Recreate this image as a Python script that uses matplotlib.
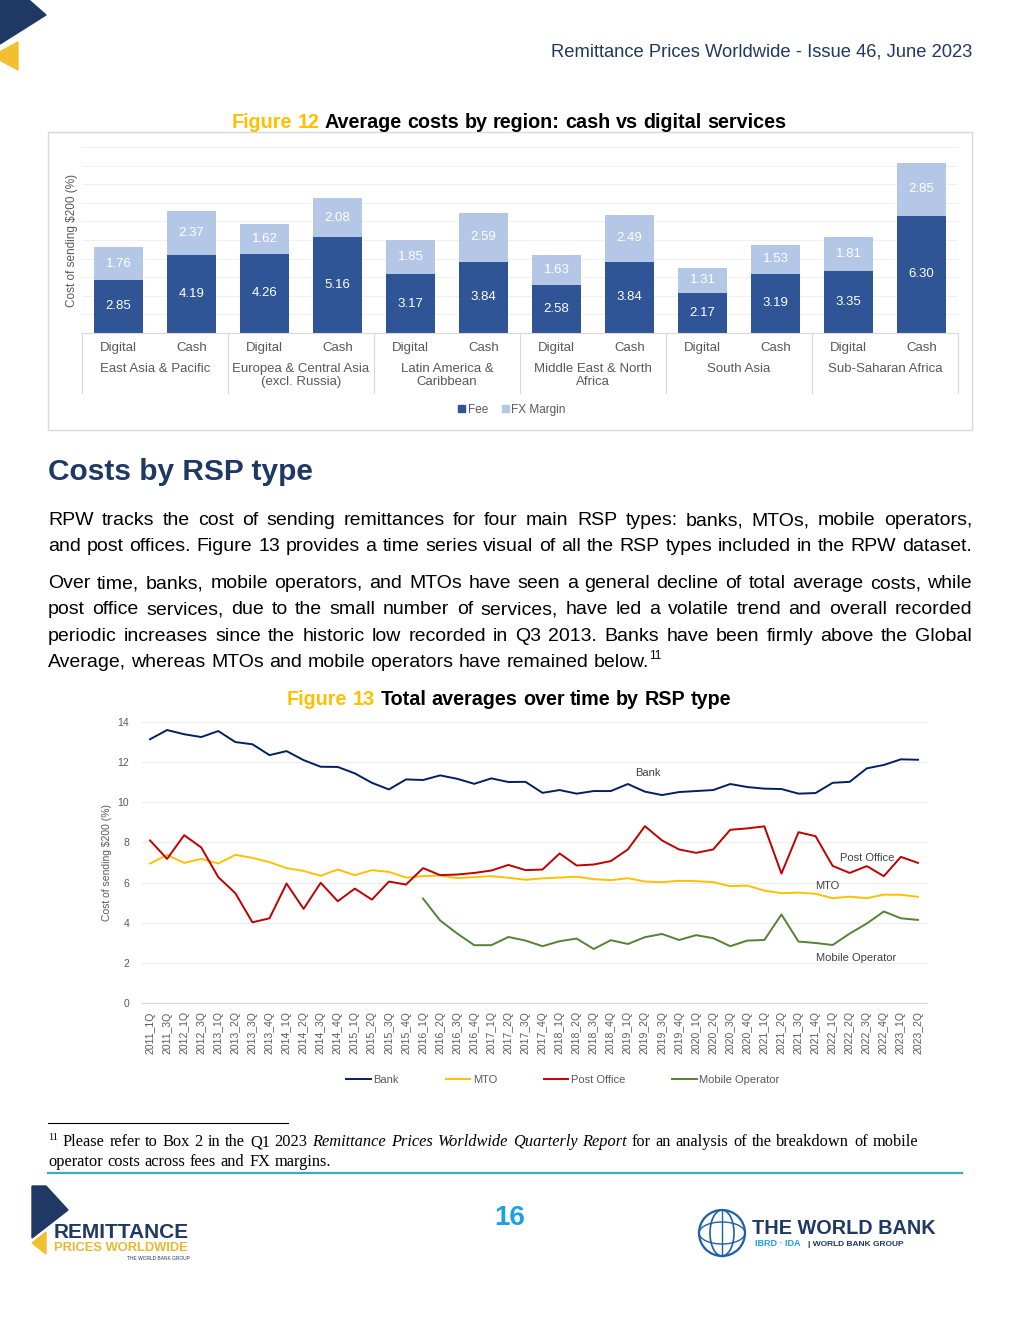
import numpy as np
import matplotlib.pyplot as plt
import matplotlib.transforms as mtrans
from matplotlib.patches import Polygon, Rectangle, Ellipse
from matplotlib.lines import Line2D

# ---- Figure 12 data: average cost by region, digital vs cash ----
kinds = ["Digital", "Cash"] * 6
regions = ["East Asia & Pacific", "Europea & Central Asia\n(excl. Russia)",
           "Latin America &\nCaribbean", "Middle East & North\nAfrica",
           "South Asia", "Sub-Saharan Africa"]
fee = [2.85, 4.19, 4.26, 5.16, 3.17, 3.84, 2.58, 3.84, 2.17, 3.19, 3.35, 6.30]
fx_margin = [1.76, 2.37, 1.62, 2.08, 1.85, 2.59, 1.63, 2.49, 1.31, 1.53, 1.81, 2.85]

# ---- Figure 13 data: total averages by RSP type ----
quarters = ["2011_1Q", "2011_3Q", "2012_1Q", "2012_3Q",
            "2013_1Q", "2013_2Q", "2013_3Q", "2013_4Q",
            "2014_1Q", "2014_2Q", "2014_3Q", "2014_4Q",
            "2015_1Q", "2015_2Q", "2015_3Q", "2015_4Q",
            "2016_1Q", "2016_2Q", "2016_3Q", "2016_4Q",
            "2017_1Q", "2017_2Q", "2017_3Q", "2017_4Q",
            "2018_1Q", "2018_2Q", "2018_3Q", "2018_4Q",
            "2019_1Q", "2019_2Q", "2019_3Q", "2019_4Q",
            "2020_1Q", "2020_2Q", "2020_3Q", "2020_4Q",
            "2021_1Q", "2021_2Q", "2021_3Q", "2021_4Q",
            "2022_1Q", "2022_2Q", "2022_3Q", "2022_4Q",
            "2023_1Q", "2023_2Q"]
bank = [13.14, 13.60, 13.39, 13.25, 13.55, 13.00, 12.89, 12.35, 12.55, 12.10,
        11.77, 11.76, 11.44, 10.97, 10.64, 11.14, 11.11, 11.34, 11.17, 10.92,
        11.19, 11.01, 11.02, 10.47, 10.61, 10.43, 10.56, 10.56, 10.91, 10.53,
        10.36, 10.51, 10.56, 10.61, 10.91, 10.76, 10.68, 10.66, 10.43, 10.46,
        10.97, 11.02, 11.69, 11.86, 12.14, 12.12]
mto = [6.95, 7.38, 6.98, 7.18, 6.95, 7.38, 7.23, 7.02, 6.72, 6.58,
       6.34, 6.65, 6.37, 6.62, 6.53, 6.25, 6.32, 6.35, 6.22, 6.27,
       6.32, 6.24, 6.14, 6.21, 6.25, 6.29, 6.17, 6.12, 6.22, 6.05,
       6.02, 6.09, 6.07, 6.02, 5.82, 5.85, 5.60, 5.47, 5.50, 5.44,
       5.22, 5.30, 5.22, 5.40, 5.39, 5.29]
post_office = [8.10, 7.18, 8.36, 7.75, 6.27, 5.47, 4.02, 4.22, 5.95, 4.69,
               5.99, 5.07, 5.70, 5.15, 6.05, 5.90, 6.72, 6.37, 6.40, 6.48,
               6.60, 6.88, 6.62, 6.65, 7.45, 6.85, 6.90, 7.07, 7.65, 8.81,
               8.10, 7.65, 7.48, 7.65, 8.63, 8.70, 8.80, 6.45, 8.51, 8.31,
               6.83, 6.48, 6.82, 6.32, 7.28, 6.98]
nan = np.nan
mobile = [nan] * 16 + [5.20, 4.11, 3.46, 2.88, 2.88, 3.29, 3.11, 2.83, 3.08, 3.21,
                       2.69, 3.13, 2.94, 3.28, 3.44, 3.14, 3.38, 3.23, 2.83, 3.11,
                       3.14, 4.41, 3.06, 2.99, 2.89, 3.46, 3.96, 4.56, 4.22, 4.14]

NAVY = "#1F3864"
GREY = "#595959"
GOLD = "#FFC000"

W, H = 1020, 1320
plt.rcParams['font.family'] = ['Liberation Sans', 'DejaVu Sans']
fig = plt.figure(figsize=(W / 100, H / 100), dpi=100)
rend = fig.canvas.get_renderer()


def px(x, y):
    return x / W, 1 - y / H


def box(l, t, r, b):
    return [l / W, 1 - b / H, (r - l) / W, (b - t) / H]


def words(s, **st):
    return [(w, st) for w in s.split()]


def put_line(tokens, y, x0, x1=None, how="left"):
    # place words one by one on a common baseline so a line can be justified
    size = tokens[0][1].get("fontsize", 12)
    em = size * 100 / 72
    base = y + 0.33 * em
    arts, wid, sups = [], [], []
    for t, st in tokens:
        st = dict(st)
        sup = st.pop("sup", False)
        a = fig.text(0, 0, t, va="baseline", ha="left", **st)
        arts.append(a)
        sups.append(sup)
        wid.append(a.get_window_extent(rend).width)
    if sups[0]:
        em = tokens[1][1].get("fontsize", 12) * 100 / 72
        base = y + 0.33 * em
    ngap = sum(1 for s in sups[1:] if not s)
    gap = 0.278 * em
    if how == "justify" and ngap:
        gap = max((x1 - x0 - sum(wid)) / ngap, 0.15 * em)
    total = sum(wid) + gap * ngap
    x = x0 - total / 2 if how == "center" else x0
    for i, a in enumerate(arts):
        if i > 0 and not sups[i]:
            x += gap
        a.set_position(px(x, base - (0.42 * em if sups[i] else 0)))
        x += wid[i]


# ---- header and corner mark ----
fig.patches.append(Polygon([px(0, 0), px(29, 0), px(46, 15), px(0, 44)], closed=True,
                           transform=fig.transFigure, color=NAVY))
fig.patches.append(Polygon([px(-8, 56), px(18, 42), px(18, 70)], closed=True,
                           transform=fig.transFigure, color="#F0C030"))
fig.text(*px(972, 52), "Remittance Prices Worldwide - Issue 46, June 2023", ha="right",
         va="center", fontsize=13.2, color=NAVY)

# ---- Figure 12 ----
put_line([("Figure", dict(fontsize=14.2, weight="bold", color=GOLD)),
          ("12", dict(fontsize=14.2, weight="bold", color=GOLD))] +
         words("Average costs by region: cash vs digital services",
               fontsize=14.2, weight="bold", color="black"), 121, 509, how="center")
fig.patches.append(Rectangle(px(48, 430), 924 / W, 298 / H, transform=fig.transFigure,
                             fill=False, edgecolor="#D9D9D9", lw=1))

ax1 = fig.add_axes(box(82, 147, 958, 333))
x = np.arange(len(fee))
ax1.bar(x, fee, 0.67, color="#2F5597", zorder=2)
ax1.bar(x, fx_margin, 0.67, bottom=fee, color="#B4C7E7", zorder=2)
ax1.set_xlim(-0.5, 11.5)
ax1.set_ylim(0, 10)
ax1.set_yticks(range(0, 11))
ax1.yaxis.grid(True, color="#F0F0F0", lw=0.8)
ax1.set_axisbelow(True)
ax1.tick_params(left=False, labelleft=False, bottom=False, labelbottom=False)
for s in ["top", "right", "left"]:
    ax1.spines[s].set_visible(False)
ax1.spines["bottom"].set_color("#D9D9D9")
for i in range(len(fee)):
    ax1.text(i, fee[i] / 2, f"{fee[i]:.2f}", ha="center", va="center", color="white",
             fontsize=9.5)
    ax1.text(i, fee[i] + fx_margin[i] / 2, f"{fx_margin[i]:.2f}", ha="center",
             va="center", color="white", fontsize=9.5)
bt = mtrans.blended_transform_factory(ax1.transData, ax1.transAxes)
for i, k in enumerate(kinds):
    ax1.text(i, -15 / 186, k, transform=bt, ha="center", va="center", fontsize=9.5,
             color=GREY)
for g, reg in enumerate(regions):
    ax1.text(2 * g + 0.5, -30 / 186, reg, transform=bt, ha="center", va="top",
             fontsize=9.5, color=GREY, linespacing=1.1)
for g in range(7):
    ax1.plot([2 * g - 0.5] * 2, [0, -60 / 186], transform=bt, color="#D9D9D9", lw=0.8,
             clip_on=False)
ax1.set_ylabel("Cost of sending $200 (%)", fontsize=8.5, color=GREY, labelpad=2)
ax1.yaxis.set_label_coords(-4 / 876, 0.5)
fig.legend([Rectangle((0, 0), 1, 1, color="#2F5597"), Rectangle((0, 0), 1, 1, color="#B4C7E7")],
           ["Fee", "FX Margin"], loc="center", bbox_to_anchor=px(512, 410), ncol=2,
           frameon=False, fontsize=8.5, labelcolor=GREY, handlelength=0.55,
           handleheight=0.55, handletextpad=0.25, columnspacing=1.2)

# ---- body text ----
fig.text(*px(48, 472), "Costs by RSP type", ha="left", va="center", fontsize=21.5,
         weight="bold", color=NAVY)
body = dict(fontsize=14, color="black")
para = [
    ("RPW tracks the cost of sending remittances for four main RSP types: banks, MTOs, mobile operators,", 519),
    ("and post offices. Figure 13 provides a time series visual of all the RSP types included in the RPW dataset.", 545),
    ("Over time, banks, mobile operators, and MTOs have seen a general decline of total average costs, while", 582),
    ("post office services, due to the small number of services, have led a volatile trend and overall recorded", 608),
    ("periodic increases since the historic low recorded in Q3 2013. Banks have been firmly above the Global", 635),
]
for s, yy in para:
    put_line(words(s, **body), yy, 48, 972, how="justify")
put_line(words("Average, whereas MTOs and mobile operators have remained below.", **body) +
         [("11", dict(fontsize=8.5, color="black", sup=True))], 661, 48)

# ---- Figure 13 ----
put_line([("Figure", dict(fontsize=14.2, weight="bold", color=GOLD)),
          ("13", dict(fontsize=14.2, weight="bold", color=GOLD))] +
         words("Total averages over time by RSP type",
               fontsize=14.2, weight="bold", color="black"), 698, 509, how="center")

ax2 = fig.add_axes(box(141.5, 722, 926.5, 1003))
t = np.arange(len(quarters))
l1, = ax2.plot(t, bank, color="#002060", lw=1.4)
l2, = ax2.plot(t, mto, color="#FFC000", lw=1.4)
l3, = ax2.plot(t, post_office, color="#C00000", lw=1.4)
l4, = ax2.plot(t, mobile, color="#548235", lw=1.4)
ax2.set_xlim(-0.5, len(quarters) - 0.5)
ax2.set_ylim(0, 14)
ax2.set_yticks(range(0, 15, 2))
ax2.set_xticks(t)
ax2.set_xticklabels(quarters, rotation=90)
ax2.yaxis.grid(True, color="#EDEDED", lw=0.8)
ax2.tick_params(length=0, labelsize=7.5, labelcolor=GREY)
ax2.tick_params(axis="y", pad=9)
ax2.tick_params(axis="x", pad=6)
for s in ["top", "right", "left"]:
    ax2.spines[s].set_visible(False)
ax2.spines["bottom"].set_color("#D9D9D9")
ax2.set_ylabel("Cost of sending $200 (%)", fontsize=7.5, color=GREY)
ax2.yaxis.set_label_coords(-29 / 785, 0.5)
lab = dict(fontsize=8, color="#404040", ha="center", va="center")
ax2.text(29.2, 11.46, "Bank", **lab)
ax2.text(42.0, 7.22, "Post Office", **lab)
ax2.text(39.7, 5.83, "MTO", **lab)
ax2.text(41.4, 2.24, "Mobile Operator", **lab)
fig.legend([l1, l2, l3, l4], ["Bank", "MTO", "Post Office", "Mobile Operator"],
           loc="center", bbox_to_anchor=px(563, 1080), ncol=4, frameon=False,
           fontsize=8, labelcolor=GREY, handlelength=2.2, handletextpad=0.25,
           columnspacing=4.2)

# ---- footnote ----
fig.add_artist(Line2D([48 / W, 288 / W], [1 - 1123 / H] * 2, color="black", lw=0.8))
serif = dict(fontsize=11.8, color="black", family=["Liberation Serif", "DejaVu Serif"])
serif_i = dict(serif, style="italic")
put_line([("11", dict(serif, fontsize=7.5, sup=True))] +
         words("Please refer to Box 2 in the Q1 2023", **serif) +
         words("Remittance Prices Worldwide Quarterly Report", **serif_i) +
         words("for an analysis of the breakdown of mobile", **serif),
         1141, 48, 918, how="justify")
put_line(words("operator costs across fees and FX margins.", **serif), 1161, 48)

# ---- page footer ----
fig.add_artist(Line2D([48 / W, 962 / W], [1 - 1173 / H] * 2, color="#3AA8D0", lw=1.6))
fig.text(*px(510, 1218), "16", ha="center", va="center", fontsize=20, weight="bold",
         color="#1BA1E2")
fig.patches.append(Polygon([px(32, 1186), px(46, 1186), px(68, 1210), px(32, 1238)],
                           closed=True, transform=fig.transFigure, color=NAVY))
fig.patches.append(Polygon([px(32, 1243), px(46, 1232), px(46, 1254)], closed=True,
                           transform=fig.transFigure, color="#F0C030"))
fig.text(*px(54, 1233), "REMITTANCE", ha="left", va="center", fontsize=15,
         weight="bold", color=NAVY)
fig.text(*px(54, 1248), "PRICES WORLDWIDE", ha="left", va="center", fontsize=9.3,
         weight="bold", color="#E8B830")
fig.text(*px(190, 1258), "THE WORLD BANK GROUP", ha="right", va="center", fontsize=3.5,
         color=NAVY)
gx, gy = px(722, 1233)
for art in [Ellipse((gx, gy), 46 / W, 46 / H, fill=False, ec="#1F5FA8", lw=1.6),
            Ellipse((gx, gy), 24 / W, 46 / H, fill=False, ec="#1F5FA8", lw=1.2),
            Ellipse((gx, gy), 46 / W, 22 / H, fill=False, ec="#1F5FA8", lw=1.0)]:
    art.set_transform(fig.transFigure)
    fig.patches.append(art)
fig.add_artist(Line2D([gx, gx], [gy - 23 / H, gy + 23 / H], color="#1F5FA8", lw=1.0))
fig.text(*px(752, 1228), "THE WORLD BANK", ha="left", va="center", fontsize=14.3,
         weight="bold", color=NAVY)
fig.text(*px(755, 1244), "IBRD \u00b7 IDA", ha="left", va="center", fontsize=6.5,
         weight="bold", color="#1BA1E2")
fig.text(*px(808, 1244), "| WORLD BANK GROUP", ha="left", va="center", fontsize=6,
         weight="bold", color=NAVY)

fig.savefig("out.png", dpi=100)
